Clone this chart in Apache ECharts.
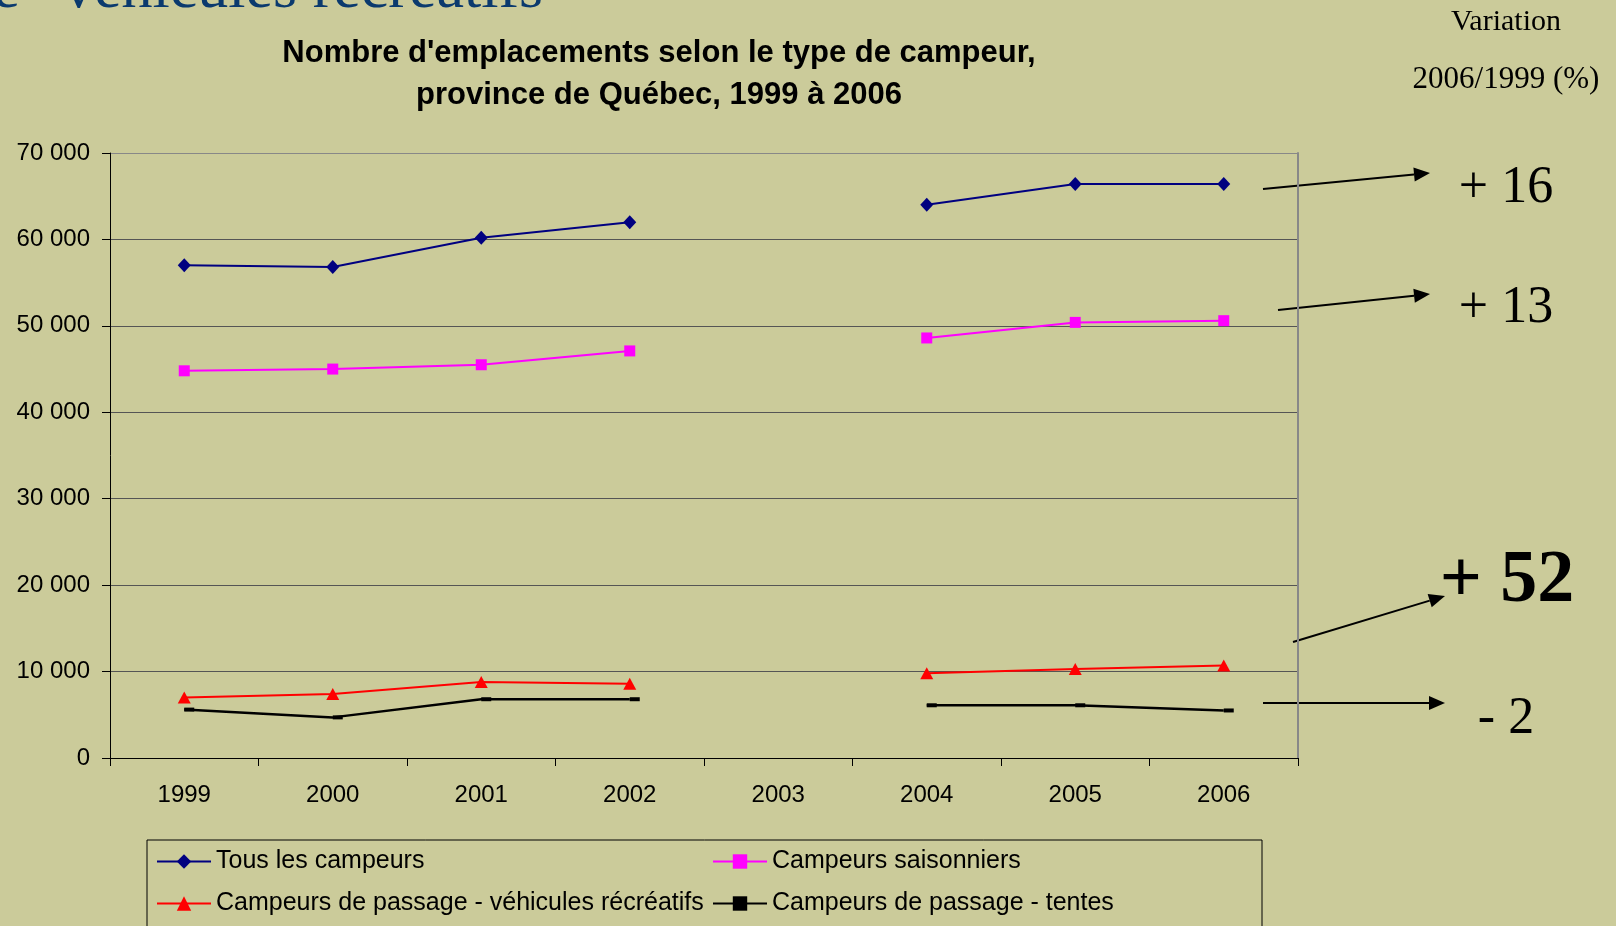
<!DOCTYPE html>
<html>
<head>
<meta charset="utf-8">
<script src="https://cdn.jsdelivr.net/npm/echarts@6/dist/echarts.min.js"></script>
<style>
  html, body { margin: 0; padding: 0; background: #cbcb9a; }
  #chart { width: 1616px; height: 926px; }
</style>
</head>
<body>
<div id="chart"></div>
<script>
// années (2003 sans donnée)
var years = ["1999", "2000", "2001", "2002", "2003", "2004", "2005", "2006"];
var tousCampeurs = [57000, 56800, 60200, 62000, null, 64000, 66400, 66400];
var saisonniers = [44800, 45000, 45500, 47100, null, 48600, 50400, 50600];
var passageVR = [7000, 7400, 8800, 8600, null, 9800, 10300, 10700];
var passageTentes = [5600, 4700, 6800, 6800, null, 6100, 6100, 5500];
var seriesNames = [
  "Tous les campeurs",
  "Campeurs saisonniers",
  "Campeurs de passage - véhicules récréatifs",
  "Campeurs de passage - tentes"
];
// variation 2006/1999 (%)
var variations = ["+ 16", "+ 13", "+ 52", "- 2"];

var myChart = echarts.init(document.getElementById("chart"));

function fmt(v) {
  return String(v).replace(/\B(?=(\d{3})+(?!\d))/g, " ");
}

var sans = "Liberation Sans, Arial, sans-serif";
var serif = "Liberation Serif, Times New Roman, serif";

// flèches vers les variations
function arrow(x1, y1, x2, y2) {
  var ang = Math.atan2(y2 - y1, x2 - x1);
  var len = 16, w = 7;
  var bx = x2 - len * Math.cos(ang), by = y2 - len * Math.sin(ang);
  var px = -Math.sin(ang) * w, py = Math.cos(ang) * w;
  return [
    { type: "line", shape: { x1: x1, y1: y1, x2: bx, y2: by }, style: { stroke: "#000", lineWidth: 2 } },
    { type: "polygon", shape: { points: [[x2, y2], [bx + px, by + py], [bx - px, by - py]] }, style: { fill: "#000" } }
  ];
}

var graphics = [
  { type: "text", x: 20, y: -9, style: { text: "de", font: "62px " + serif, fill: "#0b3a6e", align: "right", verticalAlign: "middle" } },
  { type: "text", x: 63, y: -9, style: { text: "véhicules récréatifs", font: "62px " + serif, fill: "#0b3a6e", align: "left", verticalAlign: "middle" } },
  { type: "text", x: 1506, y: 22, style: { text: "Variation", font: "30px " + serif, fill: "#000", align: "center", verticalAlign: "middle" } },
  { type: "text", x: 1506, y: 80, style: { text: "2006/1999 (%)", font: "31px " + serif, fill: "#000", align: "center", verticalAlign: "middle" } },
  { type: "text", x: 1506, y: 188, style: { text: variations[0], font: "52px " + serif, fill: "#000", align: "center", verticalAlign: "middle" } },
  { type: "text", x: 1506, y: 308, style: { text: variations[1], font: "52px " + serif, fill: "#000", align: "center", verticalAlign: "middle" } },
  { type: "text", x: 1507, y: 582, style: { text: variations[2], font: "bold 74px " + serif, fill: "#000", align: "center", verticalAlign: "middle" } },
  { type: "text", x: 1506, y: 719, style: { text: variations[3], font: "52px " + serif, fill: "#000", align: "center", verticalAlign: "middle" } },
  { type: "rect", shape: { x: 147, y: 840, width: 1115, height: 120 }, style: { fill: "none", stroke: "#000", lineWidth: 1 } }
];
graphics = graphics.concat(arrow(1263, 189, 1430, 173));
graphics = graphics.concat(arrow(1278, 310, 1430, 294));
graphics = graphics.concat(arrow(1293, 642, 1445, 596));
graphics = graphics.concat(arrow(1263, 703, 1445, 703));

var legendText = { color: "#000", fontSize: 25, fontFamily: sans };

var option = {
  backgroundColor: "#cbcb9a",
  animation: false,
  title: {
    text: "Nombre d'emplacements selon le type de campeur,\nprovince de Québec, 1999 à 2006",
    left: 654,
    top: 27,
    textAlign: "center",
    textStyle: { color: "#000", fontSize: 31, fontWeight: "bold", fontFamily: sans, lineHeight: 42 }
  },
  legend: [
    {
      data: [seriesNames[0], seriesNames[2]],
      orient: "vertical",
      left: 151,
      top: 844,
      itemWidth: 54,
      itemHeight: 18,
      itemGap: 17,
      textStyle: legendText
    },
    {
      data: [seriesNames[1], seriesNames[3]],
      orient: "vertical",
      left: 707,
      top: 844,
      itemWidth: 54,
      itemHeight: 18,
      itemGap: 17,
      textStyle: legendText
    }
  ],
  grid: {
    left: 110,
    top: 153,
    right: 318,
    bottom: 168
  },
  xAxis: {
    type: "category",
    data: years,
    boundaryGap: true,
    axisLine: { show: true, lineStyle: { color: "#000", width: 1 } },
    axisTick: { show: true, length: 8, lineStyle: { color: "#000" } },
    axisLabel: { color: "#000", fontSize: 24, fontFamily: sans, margin: 25 },
    splitLine: { show: false }
  },
  yAxis: [
    {
      type: "value",
      min: 0,
      max: 70000,
      interval: 10000,
      axisLine: { show: true, lineStyle: { color: "#000", width: 1 } },
      axisTick: { show: true, length: 8, lineStyle: { color: "#000" } },
      axisLabel: { color: "#000", fontSize: 24, fontFamily: sans, margin: 20, formatter: fmt },
      splitLine: {
        show: true,
        lineStyle: { color: ["#555", "#555", "#555", "#555", "#555", "#555", "#555", "#888"], width: 1 }
      }
    },
    {
      type: "value",
      position: "right",
      min: 0,
      max: 70000,
      interval: 10000,
      axisLine: { show: true, lineStyle: { color: "#888", width: 2 } },
      axisTick: { show: false },
      axisLabel: { show: false },
      splitLine: { show: false }
    }
  ],
  series: [
    {
      name: seriesNames[0],
      type: "line",
      data: tousCampeurs,
      symbol: "diamond",
      symbolSize: [13, 14],
      lineStyle: { color: "#000080", width: 2 },
      itemStyle: { color: "#000080" }
    },
    {
      name: seriesNames[1],
      type: "line",
      data: saisonniers,
      symbol: "rect",
      symbolSize: 11,
      lineStyle: { color: "#ff00ff", width: 2 },
      itemStyle: { color: "#ff00ff" }
    },
    {
      name: seriesNames[2],
      type: "line",
      data: passageVR,
      symbol: "triangle",
      symbolSize: [13, 12],
      lineStyle: { color: "#ff0000", width: 2 },
      itemStyle: { color: "#ff0000" }
    },
    {
      name: seriesNames[3],
      type: "line",
      data: passageTentes,
      symbol: "rect",
      symbolSize: [10, 4],
      symbolOffset: [5, 0],
      lineStyle: { color: "#000", width: 2.5 },
      itemStyle: { color: "#000" }
    }
  ],
  graphic: graphics
};

myChart.setOption(option);
window.addEventListener("resize", function () {
  myChart.resize();
});
</script>
</body>
</html>
